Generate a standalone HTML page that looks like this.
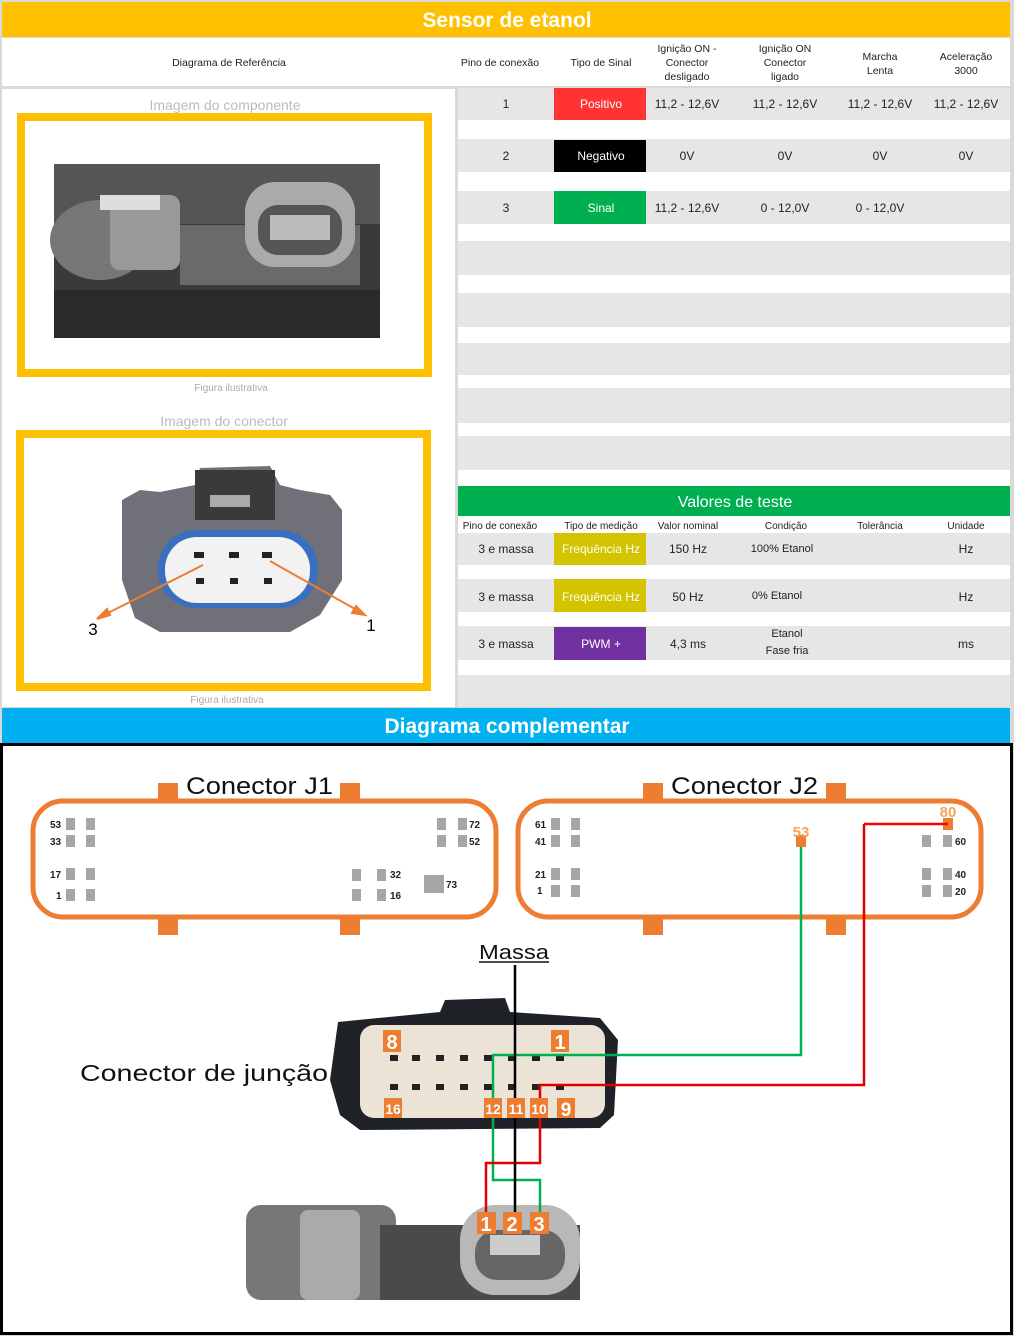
<!DOCTYPE html>
<html><head><meta charset="utf-8"><style>
html,body{margin:0;padding:0;background:#fff}
svg{display:block}
text{font-family:"Liberation Sans",sans-serif}
</style></head><body>
<svg width="1014" height="1336" viewBox="0 0 1014 1336" xmlns="http://www.w3.org/2000/svg">
<rect x="0" y="0" width="1014" height="1336" fill="#d9d9d9"/>
<rect x="2" y="2" width="1008" height="35" fill="#ffc000"/>
<text x="507" y="27" fill="#fff" font-size="21" font-weight="bold" text-anchor="middle">Sensor de etanol</text>
<rect x="2" y="38" width="1008" height="48" fill="#fff"/>
<g font-size="10.5" fill="#222" text-anchor="middle">
<text x="229" y="66">Diagrama de Referência</text>
<text x="500" y="66">Pino de conexão</text>
<text x="601" y="66">Tipo de Sinal</text>
<text x="687" y="52">Ignição ON -</text><text x="687" y="66">Conector</text><text x="687" y="80">desligado</text>
<text x="785" y="52">Ignição ON</text><text x="785" y="66">Conector</text><text x="785" y="80">ligado</text>
<text x="880" y="60">Marcha</text><text x="880" y="74">Lenta</text>
<text x="966" y="60">Aceleração</text><text x="966" y="74">3000</text>
</g>
<rect x="2" y="89" width="453" height="618" fill="#fff"/>
<text x="225" y="110" font-size="14" fill="#bbb" text-anchor="middle">Imagem do componente</text>
<rect x="21" y="117" width="407" height="256" fill="#fff" stroke="#ffc000" stroke-width="8"/>
<rect x="54" y="164" width="326" height="174" fill="#3a3a3a"/>
<rect x="54" y="164" width="326" height="60" fill="#555"/>
<ellipse cx="100" cy="240" rx="50" ry="40" fill="#777"/>
<rect x="110" y="195" width="70" height="75" rx="10" fill="#999"/>
<rect x="100" y="195" width="60" height="15" fill="#ddd"/>
<rect x="180" y="225" width="180" height="60" fill="#6a6a6a"/>
<rect x="245" y="182" width="110" height="85" rx="30" fill="#aaa"/>
<rect x="258" y="205" width="84" height="50" rx="20" fill="#555"/>
<rect x="270" y="215" width="60" height="25" fill="#bbb"/>
<rect x="54" y="290" width="326" height="48" fill="#2a2a2a"/>
<text x="231" y="391" font-size="10" fill="#aaa" text-anchor="middle">Figura ilustrativa</text>
<text x="224" y="426" font-size="14" fill="#bbb" text-anchor="middle">Imagem do conector</text>
<rect x="20" y="434" width="407" height="253" fill="#fff" stroke="#ffc000" stroke-width="8"/>
<path d="M122 500 L140 490 L160 492 L195 485 L200 468 L270 466 L280 485 L300 490 L330 495 L342 510 L342 580 L320 615 L290 632 L160 632 L135 618 L122 580 Z" fill="#707078"/>
<rect x="195" y="470" width="80" height="50" fill="#3a3a3a"/>
<rect x="210" y="495" width="40" height="12" fill="#aaa"/>
<rect x="158" y="530" width="160" height="78" rx="38" fill="#3a6fc0"/>
<rect x="165" y="537" width="145" height="66" rx="32" fill="#f2f2f2"/>
<g fill="#222"><rect x="194" y="552" width="10" height="6"/><rect x="229" y="552" width="10" height="6"/><rect x="262" y="552" width="10" height="6"/>
<rect x="196" y="578" width="8" height="6"/><rect x="230" y="578" width="8" height="6"/><rect x="264" y="578" width="8" height="6"/></g>
<g stroke="#ed7d31" stroke-width="2" fill="#ed7d31">
<line x1="203" y1="565" x2="100" y2="617"/><polygon points="97,619 107,609 110,615"/>
<line x1="270" y1="561" x2="362" y2="613"/><polygon points="365,615 352,613 356,606"/>
</g>
<text x="93" y="635" font-size="17" font-family="Liberation Serif" fill="#000" text-anchor="middle">3</text>
<text x="371" y="631" font-size="17" font-family="Liberation Serif" fill="#000" text-anchor="middle">1</text>
<text x="227" y="703" font-size="10" fill="#aaa" text-anchor="middle">Figura ilustrativa</text>
<rect x="458" y="88" width="552" height="398" fill="#fff"/>
<g fill="#e6e6e6">
<rect x="458" y="88" width="552" height="32"/><rect x="458" y="139" width="552" height="33"/><rect x="458" y="191" width="552" height="33"/>
<rect x="458" y="241" width="552" height="34"/><rect x="458" y="293" width="552" height="34"/><rect x="458" y="343" width="552" height="32"/>
<rect x="458" y="388" width="552" height="35"/><rect x="458" y="436" width="552" height="34"/>
</g>
<rect x="554" y="88" width="92" height="32" fill="#ff3333"/>
<rect x="554" y="140" width="92" height="32" fill="#000"/>
<rect x="554" y="191" width="92" height="33" fill="#00b050"/>
<g font-size="12" fill="#222" text-anchor="middle">
<text x="506" y="108">1</text><text x="506" y="160">2</text><text x="506" y="212">3</text>
<text x="687" y="108">11,2 - 12,6V</text><text x="785" y="108">11,2 - 12,6V</text><text x="880" y="108">11,2 - 12,6V</text><text x="966" y="108">11,2 - 12,6V</text>
<text x="687" y="160">0V</text><text x="785" y="160">0V</text><text x="880" y="160">0V</text><text x="966" y="160">0V</text>
<text x="687" y="212">11,2 - 12,6V</text><text x="785" y="212">0 - 12,0V</text><text x="880" y="212">0 - 12,0V</text>
</g>
<g font-size="12" fill="#fff" text-anchor="middle">
<text x="601" y="108">Positivo</text><text x="601" y="160">Negativo</text><text x="601" y="212">Sinal</text>
</g>
<rect x="458" y="486" width="552" height="30" fill="#00b050"/>
<text x="735" y="507" font-size="16" fill="#fff" text-anchor="middle">Valores de teste</text>
<rect x="458" y="516" width="552" height="17" fill="#fff"/>
<g font-size="10" fill="#222" text-anchor="middle">
<text x="500" y="529">Pino de conexão</text><text x="601" y="529">Tipo de medição</text><text x="688" y="529">Valor nominal</text>
<text x="786" y="529">Condição</text><text x="880" y="529">Tolerância</text><text x="966" y="529">Unidade</text>
</g>
<rect x="458" y="533" width="552" height="174" fill="#e6e6e6"/>
<rect x="458" y="565" width="552" height="14" fill="#fff"/>
<rect x="458" y="612" width="552" height="14" fill="#fff"/>
<rect x="458" y="660" width="552" height="15" fill="#fff"/>
<rect x="554" y="533" width="92" height="32" fill="#d4c400"/>
<rect x="554" y="579" width="92" height="33" fill="#d4c400"/>
<rect x="554" y="627" width="92" height="33" fill="#7030a0"/>
<g font-size="12" fill="#222" text-anchor="middle">
<text x="506" y="553">3 e massa</text><text x="506" y="601">3 e massa</text><text x="506" y="648">3 e massa</text>
<text x="688" y="553">150 Hz</text><text x="688" y="601">50 Hz</text><text x="688" y="648">4,3 ms</text>
<text x="966" y="553">Hz</text><text x="966" y="601">Hz</text><text x="966" y="648">ms</text>
</g>
<g font-size="11" fill="#222" text-anchor="middle">
<text x="782" y="552">100% Etanol</text><text x="777" y="599">0% Etanol</text>
<text x="787" y="637">Etanol</text><text x="787" y="654">Fase fria</text>
</g>
<g font-size="12" fill="#fff" text-anchor="middle">
<text x="601" y="553">Frequência Hz</text><text x="601" y="601">Frequência Hz</text><text x="601" y="648">PWM +</text>
</g>
<rect x="2" y="708" width="1008" height="35" fill="#00b0f0"/>
<text x="507" y="733" font-size="21" font-weight="bold" fill="#fff" text-anchor="middle">Diagrama complementar</text>
<rect x="1.5" y="744.5" width="1010" height="589" fill="#fff" stroke="#000" stroke-width="3"/>
<g fill="#ed7d31">
<rect x="158" y="783" width="20" height="18"/><rect x="340" y="783" width="20" height="18"/>
<rect x="158" y="918" width="20" height="17"/><rect x="340" y="918" width="20" height="17"/>
<rect x="643" y="783" width="20" height="18"/><rect x="826" y="783" width="20" height="18"/>
<rect x="643" y="918" width="20" height="17"/><rect x="826" y="918" width="20" height="17"/>
</g>
<rect x="33" y="801" width="463" height="116" rx="30" fill="none" stroke="#ed7d31" stroke-width="5"/>
<rect x="518" y="801" width="463" height="116" rx="30" fill="none" stroke="#ed7d31" stroke-width="5"/>
<text x="186" y="794" font-size="24" fill="#111" textLength="147" lengthAdjust="spacingAndGlyphs">Conector J1</text>
<text x="671" y="794" font-size="24" fill="#111" textLength="147" lengthAdjust="spacingAndGlyphs">Conector J2</text>
<g fill="#a6a6a6">
<rect x="66" y="818" width="9" height="12"/><rect x="86" y="818" width="9" height="12"/>
<rect x="66" y="835" width="9" height="12"/><rect x="86" y="835" width="9" height="12"/>
<rect x="66" y="868" width="9" height="12"/><rect x="86" y="868" width="9" height="12"/>
<rect x="66" y="889" width="9" height="12"/><rect x="86" y="889" width="9" height="12"/>
<rect x="437" y="818" width="9" height="12"/><rect x="458" y="818" width="9" height="12"/>
<rect x="437" y="835" width="9" height="12"/><rect x="458" y="835" width="9" height="12"/>
<rect x="352" y="869" width="9" height="12"/><rect x="377" y="869" width="9" height="12"/>
<rect x="352" y="889" width="9" height="12"/><rect x="377" y="889" width="9" height="12"/>
<rect x="424" y="875" width="20" height="18"/>
<rect x="551" y="818" width="9" height="12"/><rect x="571" y="818" width="9" height="12"/>
<rect x="551" y="835" width="9" height="12"/><rect x="571" y="835" width="9" height="12"/>
<rect x="551" y="868" width="9" height="12"/><rect x="571" y="868" width="9" height="12"/>
<rect x="551" y="885" width="9" height="12"/><rect x="571" y="885" width="9" height="12"/>
<rect x="922" y="835" width="9" height="12"/><rect x="943" y="835" width="9" height="12"/>
<rect x="922" y="868" width="9" height="12"/><rect x="943" y="868" width="9" height="12"/>
<rect x="922" y="885" width="9" height="12"/><rect x="943" y="885" width="9" height="12"/>
</g>
<g font-size="10" font-weight="bold" fill="#222">
<text x="50" y="828">53</text><text x="50" y="845">33</text><text x="50" y="878">17</text><text x="56" y="899">1</text>
<text x="469" y="828">72</text><text x="469" y="845">52</text><text x="390" y="878">32</text><text x="390" y="899">16</text><text x="446" y="888">73</text>
<text x="535" y="828">61</text><text x="535" y="845">41</text><text x="535" y="878">21</text><text x="537" y="894">1</text>
<text x="955" y="845">60</text><text x="955" y="878">40</text><text x="955" y="895">20</text>
</g>
<rect x="943" y="818" width="10" height="12" fill="#ed7d31"/>
<rect x="796" y="835" width="10" height="12" fill="#ed7d31"/>
<text x="948" y="817" font-size="15" font-weight="bold" fill="#f4a460" text-anchor="middle">80</text>
<text x="801" y="837" font-size="15" font-weight="bold" fill="#f4a460" text-anchor="middle">53</text>
<text x="479" y="959" font-size="20" fill="#111" textLength="70" lengthAdjust="spacingAndGlyphs">Massa</text>
<line x1="479" y1="962" x2="549" y2="962" stroke="#111" stroke-width="1.5"/>
<text x="80" y="1081" font-size="23" fill="#111" textLength="248" lengthAdjust="spacingAndGlyphs">Conector de junção</text>
<path d="M338 1022 L440 1012 L445 1000 L505 998 L510 1012 L600 1018 L618 1040 L614 1115 L600 1128 L360 1130 L340 1115 L330 1080 Z" fill="#1f2328"/>
<rect x="360" y="1025" width="245" height="93" rx="14" fill="#ebe4d6"/>
<g fill="#222">
<rect x="390" y="1055" width="8" height="6"/><rect x="412" y="1055" width="8" height="6"/><rect x="436" y="1055" width="8" height="6"/><rect x="460" y="1055" width="8" height="6"/><rect x="484" y="1055" width="8" height="6"/><rect x="508" y="1055" width="8" height="6"/><rect x="532" y="1055" width="8" height="6"/><rect x="556" y="1055" width="8" height="6"/>
<rect x="390" y="1084" width="8" height="6"/><rect x="412" y="1084" width="8" height="6"/><rect x="436" y="1084" width="8" height="6"/><rect x="460" y="1084" width="8" height="6"/><rect x="484" y="1084" width="8" height="6"/><rect x="508" y="1084" width="8" height="6"/><rect x="532" y="1084" width="8" height="6"/><rect x="556" y="1084" width="8" height="6"/>
</g>
<rect x="246" y="1205" width="150" height="95" rx="15" fill="#777"/>
<rect x="300" y="1210" width="60" height="90" rx="8" fill="#aaa"/>
<rect x="380" y="1225" width="200" height="75" fill="#4a4a4a"/>
<rect x="460" y="1205" width="120" height="90" rx="35" fill="#b8b8b8"/>
<rect x="475" y="1230" width="90" height="50" rx="22" fill="#666"/>
<rect x="490" y="1235" width="50" height="20" fill="#ccc"/>
<g fill="none" stroke-width="2.5">
<polyline points="801,847 801,1055 493,1055 493,1100" stroke="#00b050"/>
<polyline points="493,1118 493,1180 540,1180 540,1212" stroke="#00b050"/>
<polyline points="864,824 948,824" stroke="#ff0000"/>
<polyline points="864,824 864,1085 540,1085 540,1100" stroke="#e00000"/>
<polyline points="540,1118 540,1163 486,1163 486,1212" stroke="#e00000"/>
<line x1="515" y1="965" x2="515" y2="1212" stroke="#000"/>
</g>
<g fill="#ed7d31">
<rect x="383" y="1030" width="18" height="22"/><rect x="551" y="1030" width="18" height="22"/>
<rect x="384" y="1098" width="18" height="20"/>
<rect x="484" y="1098" width="18" height="20"/><rect x="507" y="1098" width="18" height="20"/><rect x="530" y="1098" width="18" height="20"/><rect x="557" y="1098" width="18" height="20"/>
<rect x="477" y="1212" width="19" height="22"/><rect x="503" y="1212" width="19" height="22"/><rect x="530" y="1212" width="19" height="22"/>
</g>
<g fill="#fff" font-weight="bold" text-anchor="middle">
<text x="392" y="1049" font-size="20">8</text><text x="560" y="1049" font-size="20">1</text>
<text x="393" y="1114" font-size="14">16</text>
<text x="493" y="1114" font-size="14">12</text><text x="516" y="1114" font-size="14">11</text><text x="539" y="1114" font-size="14">10</text><text x="566" y="1116" font-size="19">9</text>
<text x="486" y="1231" font-size="20">1</text><text x="512" y="1231" font-size="20">2</text><text x="539" y="1231" font-size="20">3</text>
</g>
</svg>
</body></html>
